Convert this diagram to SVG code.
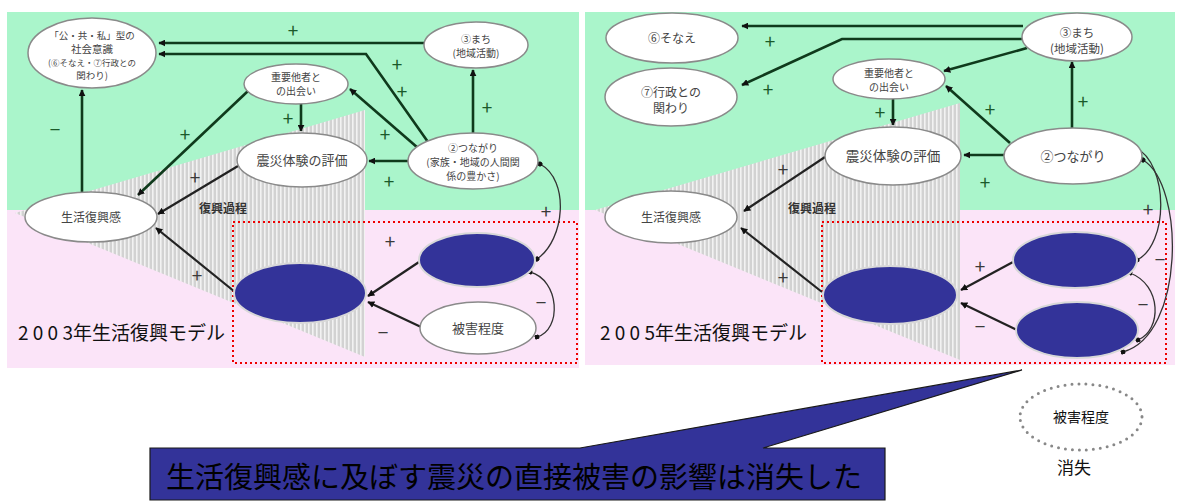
<svg xmlns="http://www.w3.org/2000/svg" width="1182" height="502" viewBox="0 0 1182 502">
<defs>
<pattern id="stripes" width="4" height="4" patternUnits="userSpaceOnUse">
<rect width="4" height="4" fill="#d2d2d2"/>
<rect x="0" y="0" width="1.6" height="4" fill="#f2f2f2"/>
</pattern>
<marker id="arr" viewBox="0 0 10 10" refX="9" refY="5" markerWidth="7" markerHeight="7" markerUnits="userSpaceOnUse" orient="auto">
<path d="M0,0 L10,5 L0,10 z" fill="#111"/>
</marker>
<marker id="dot" viewBox="0 0 10 10" refX="5" refY="5" markerWidth="5" markerHeight="5" markerUnits="userSpaceOnUse" orient="auto">
<circle cx="5" cy="5" r="5" fill="#111"/>
</marker>
<style>
text{font-family:"Noto Sans CJK JP","Noto Sans",sans-serif;}
.node{fill:#fff;stroke:#8a8a8a;stroke-width:1.5;}
.blue{fill:#333399;stroke:#d8d8d8;stroke-width:2;}
.nt{font-size:10px;fill:#444;text-anchor:middle;}
.nm{font-size:13px;fill:#444;text-anchor:middle;}
.g{stroke:#0f3a1c;stroke-width:2.6;fill:none;}
.k{stroke:#222;stroke-width:2.2;fill:none;}
.c{stroke:#333;stroke-width:1.3;fill:none;}
.pg{font-size:19px;fill:#1a5a2a;text-anchor:middle;}
.pk{font-size:19px;fill:#3a3a3a;text-anchor:middle;}
.red{fill:none;stroke:#ee0000;stroke-width:2;stroke-dasharray:2 3;}
.title{font-size:19px;fill:#111;}
.proc{font-size:12px;font-weight:bold;fill:#333;text-anchor:middle;}
</style>
</defs>

<!-- panel backgrounds -->
<g id="panel-2003">
<rect x="7" y="12" width="572" height="199" fill="#aaf5cb"/>
<rect x="7" y="210" width="572" height="158" fill="#fbe4f8"/>
<polygon points="15,213 365,110 365,357" fill="url(#stripes)"/>
<text x="223" y="213" class="proc">復興過程</text>
<text x="18" y="340" class="title">2 0 0 3年生活復興モデル</text>
<rect x="233" y="222" width="344" height="141" class="red"/>
</g>
<g id="panel-2005">
<rect x="585" y="12" width="590" height="199" fill="#aaf5cb"/>
<rect x="585" y="210" width="590" height="155" fill="#fbe4f8"/>
<polygon points="595,210 960,103 960,360" fill="url(#stripes)"/>
<text x="812" y="213" class="proc">復興過程</text>
<text x="600" y="340" class="title">2 0 0 5年生活復興モデル</text>
<rect x="822" y="222" width="344" height="141" class="red"/>
</g>

<!-- connectors -->
<g id="connectors">
<path class="g" d="M424,43 H159" marker-end="url(#arr)"/>
<path class="g" d="M428,142 L366,54 H159" marker-end="url(#arr)"/>
<path class="g" d="M418,148 L350,89" marker-end="url(#arr)"/>
<path class="g" d="M473,133 V70" marker-end="url(#arr)"/>
<path class="g" d="M408,161 H369" marker-end="url(#arr)"/>
<path class="g" d="M301,104 V131" marker-end="url(#arr)"/>
<path class="g" d="M248,91 L138,195" marker-end="url(#arr)"/>
<path class="k" d="M238,166 L158,214" marker-end="url(#arr)"/>
<path class="g" d="M82,192 V90" marker-end="url(#arr)"/>
<path class="k" d="M235,292 L156,228" marker-end="url(#arr)"/>
<path class="k" d="M419,262 L368,296" marker-end="url(#arr)"/>
<path class="k" d="M421,327 L368,302" marker-end="url(#arr)"/>
<path class="c" d="M537,259 C565,240 570,180 540,164" marker-start="url(#dot)" marker-end="url(#dot)"/>
<path class="c" d="M530,272 C560,280 562,330 537,337" marker-start="url(#dot)" marker-end="url(#dot)"/>

<path class="g" d="M1023,26 H742" marker-end="url(#arr)"/>
<path class="g" d="M1023,39 H842 L742,85" marker-end="url(#arr)"/>
<path class="g" d="M1027,48 L944,71" marker-end="url(#arr)"/>
<path class="g" d="M1010,143 L946,86" marker-end="url(#arr)"/>
<path class="g" d="M1072,128 V62" marker-end="url(#arr)"/>
<path class="g" d="M1004,155 H964" marker-end="url(#arr)"/>
<path class="g" d="M893,99 V125" marker-end="url(#arr)"/>
<path class="k" d="M825,157 L744,211" marker-end="url(#arr)"/>
<path class="k" d="M822,292 L741,228" marker-end="url(#arr)"/>
<path class="k" d="M1013,262 L961,290" marker-end="url(#arr)"/>
<path class="k" d="M1017,330 L961,303" marker-end="url(#arr)"/>
<path class="c" d="M1135,147 C1170,165 1168,245 1137,260" marker-start="url(#dot)" marker-end="url(#dot)"/>
<path class="c" d="M1143,160 C1185,185 1185,335 1123,352" marker-start="url(#dot)" marker-end="url(#dot)"/>
<path class="c" d="M1130,273 C1162,285 1162,330 1138,340" marker-start="url(#dot)" marker-end="url(#dot)"/>

<!-- signs 2003 -->
<text class="pg" x="293" y="38">+</text>
<text class="pg" x="397" y="72">+</text>
<text class="pg" x="402" y="99">+</text>
<text class="pg" x="385" y="142">+</text>
<text class="pg" x="389" y="189">+</text>
<text class="pg" x="487" y="115">+</text>
<text class="pg" x="288" y="126">+</text>
<text class="pg" x="185" y="142">+</text>
<text class="pk" x="195" y="185">+</text>
<text class="pg" x="55" y="137">−</text>
<text class="pk" x="197" y="283">+</text>
<text class="pk" x="390" y="249">+</text>
<text class="pk" x="383" y="340">−</text>
<text class="pk" x="546" y="219">+</text>
<text class="pk" x="541" y="310">−</text>
<!-- signs 2005 -->
<text class="pg" x="770" y="49">+</text>
<text class="pg" x="768" y="97">+</text>
<text class="pg" x="990" y="117">+</text>
<text class="pg" x="1083" y="109">+</text>
<text class="pg" x="985" y="190">+</text>
<text class="pg" x="880" y="120">+</text>
<text class="pk" x="783" y="177">+</text>
<text class="pk" x="783" y="285">+</text>
<text class="pk" x="980" y="274">+</text>
<text class="pk" x="980" y="334">−</text>
<text class="pk" x="1148" y="217">+</text>
<text class="pk" x="1160" y="267">−</text>
<text class="pk" x="1143" y="312">−</text>
</g>

<!-- nodes 2003 -->
<g id="n03-shakai">
<ellipse class="node" cx="92" cy="53" rx="64" ry="35"/>
<text class="nt" x="92" y="39" style="font-size:9.5px">「公・共・私」型の</text>
<text class="nt" x="92" y="53" style="font-size:10.5px">社会意識</text>
<text class="nt" x="92" y="66" style="font-size:8.5px">(⑥そなえ・⑦行政との</text>
<text class="nt" x="92" y="79" style="font-size:9.5px">関わり)</text>
</g>
<g id="n03-machi">
<ellipse class="node" cx="476" cy="45" rx="52" ry="23"/>
<text class="nt" x="476" y="43">③まち</text>
<text class="nt" x="476" y="57">(地域活動)</text>
</g>
<g id="n03-juyo">
<ellipse class="node" cx="296" cy="84" rx="52" ry="20"/>
<text class="nt" x="296" y="81">重要他者と</text>
<text class="nt" x="296" y="95">の出会い</text>
</g>
<g id="n03-hyoka">
<ellipse class="node" cx="302" cy="160" rx="65" ry="27"/>
<text class="nm" x="302" y="165">震災体験の評価</text>
</g>
<g id="n03-tsunagari">
<ellipse class="node" cx="473" cy="161" rx="65" ry="28"/>
<text class="nt" x="473" y="152">②つながり</text>
<text class="nt" x="473" y="166">(家族・地域の人間関</text>
<text class="nt" x="473" y="180">係の豊かさ)</text>
</g>
<g id="n03-kanji">
<ellipse class="node" cx="91" cy="217" rx="66" ry="25"/>
<text class="nm" x="91" y="222" style="font-size:12px">生活復興感</text>
</g>
<g id="n03-blue-main">
<ellipse class="blue" cx="300" cy="293" rx="66" ry="30"/>
</g>
<g id="n03-blue-upper">
<ellipse class="blue" cx="477" cy="260" rx="58" ry="27"/>
</g>
<g id="n03-higai">
<ellipse class="node" cx="478" cy="328" rx="58" ry="26"/>
<text class="nm" x="478" y="333">被害程度</text>
</g>

<!-- nodes 2005 -->
<g id="n05-sonae">
<ellipse class="node" cx="672" cy="38" rx="66" ry="25"/>
<text class="nm" x="672" y="43" style="font-size:12px">⑥そなえ</text>
</g>
<g id="n05-gyosei">
<ellipse class="node" cx="671" cy="97" rx="66" ry="29"/>
<text class="nm" x="671" y="97" style="font-size:12px">⑦行政との</text>
<text class="nm" x="671" y="113" style="font-size:12px">関わり</text>
</g>
<g id="n05-machi">
<ellipse class="node" cx="1077" cy="37" rx="55" ry="24"/>
<text class="nm" x="1077" y="37" style="font-size:11.5px">③まち</text>
<text class="nm" x="1077" y="53" style="font-size:11.5px">(地域活動)</text>
</g>
<g id="n05-juyo">
<ellipse class="node" cx="889" cy="79" rx="56" ry="20"/>
<text class="nt" x="889" y="77">重要他者と</text>
<text class="nt" x="889" y="91">の出会い</text>
</g>
<g id="n05-hyoka">
<ellipse class="node" cx="893" cy="156" rx="68" ry="29"/>
<text class="nm" x="893" y="161" style="font-size:13.5px">震災体験の評価</text>
</g>
<g id="n05-tsunagari">
<ellipse class="node" cx="1073" cy="156" rx="69" ry="28"/>
<text class="nm" x="1073" y="161">②つながり</text>
</g>
<g id="n05-kanji">
<ellipse class="node" cx="671" cy="217" rx="66" ry="26"/>
<text class="nm" x="671" y="222" style="font-size:12px">生活復興感</text>
</g>
<g id="n05-blue-main">
<ellipse class="blue" cx="890" cy="295" rx="67" ry="29"/>
</g>
<g id="n05-blue-upper">
<ellipse class="blue" cx="1075" cy="260" rx="62" ry="28"/>
</g>
<g id="n05-blue-lower">
<ellipse class="blue" cx="1077" cy="330" rx="61" ry="28"/>
</g>

<!-- callout -->
<g id="callout">
<polygon points="150,448 580,448 1022,370 763,448 885,448 885,500 150,500" fill="#333399" stroke="#1a1a1a" stroke-width="1.2"/>
<text x="166" y="488" style="font-size:29px;fill:#000">生活復興感に及ぼす震災の直接被害の影響は消失した</text>
</g>

<!-- vanished node -->
<g id="vanished-higai">
<ellipse cx="1081" cy="417" rx="61" ry="33" fill="none" stroke="#888" stroke-width="3" stroke-linecap="round" stroke-dasharray="0 7"/>
<text x="1081" y="422" style="font-size:14px;fill:#111;text-anchor:middle">被害程度</text>
<text x="1074" y="474" style="font-size:17px;fill:#111;text-anchor:middle">消失</text>
</g>
</svg>
